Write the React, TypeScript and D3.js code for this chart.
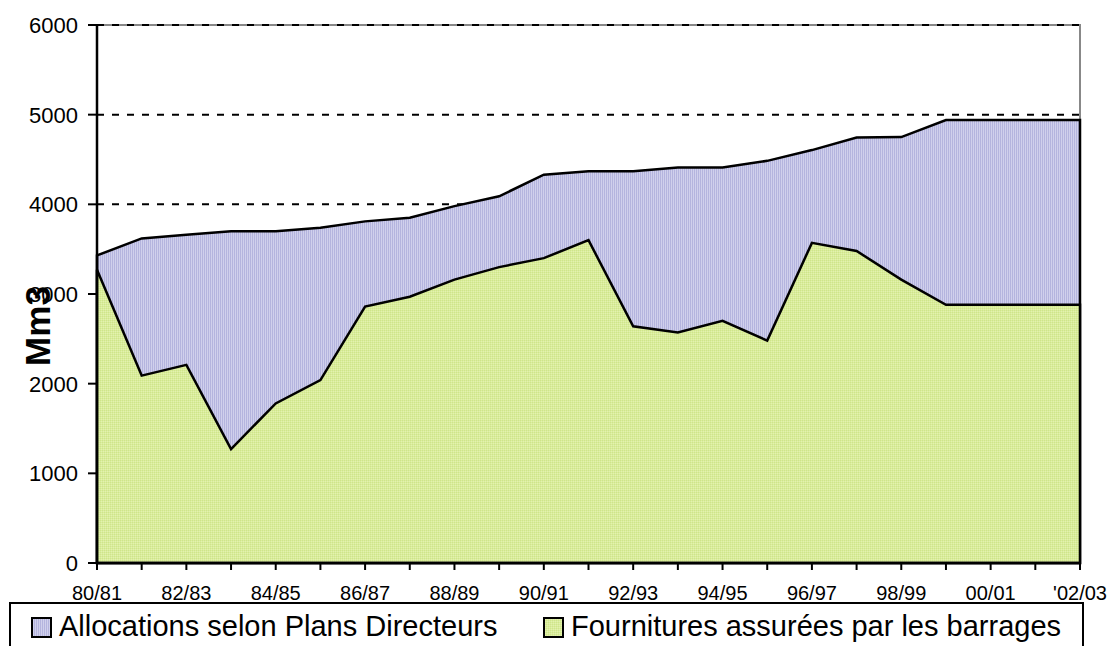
import * as d3 from "d3";

const seasons = [
  "80/81", "81/82", "82/83", "83/84", "84/85", "85/86", "86/87", "87/88",
  "88/89", "89/90", "90/91", "91/92", "92/93", "93/94", "94/95", "95/96",
  "96/97", "97/98", "98/99", "99/00", "00/01", "01/02", "'02/03",
];
const tickLabels = [
  "80/81", "82/83", "84/85", "86/87", "88/89", "90/91",
  "92/93", "94/95", "96/97", "98/99", "00/01", "'02/03",
];
// Mm3
const allocations = [
  3430, 3620, 3660, 3700, 3700, 3740, 3810, 3850, 3980, 4090, 4330, 4370,
  4370, 4410, 4410, 4485, 4605, 4745, 4750, 4940, 4940, 4940, 4940,
];
const fournitures = [
  3270, 2090, 2210, 1270, 1780, 2040, 2860, 2970, 3160, 3300, 3400, 3600,
  2640, 2570, 2700, 2480, 3570, 3480, 3160, 2880, 2880, 2880, 2880,
];
const yTicks = [0, 1000, 2000, 3000, 4000, 5000, 6000];
const legendItems = [
  { label: "Allocations selon Plans Directeurs", fill: "url(#purpleFill)" },
  { label: "Fournitures assurées par les barrages", fill: "url(#greenFill)" },
];

const W = 1109;
const H = 646;
const left = 97;
const right = 1080;
const top = 25;
const bottom = 563;
const font = "'Liberation Sans', Arial, sans-serif";

export default function App() {
  const x = d3.scalePoint<string>().domain(seasons).range([left, right]);
  const y = d3.scaleLinear().domain([0, 6000]).range([bottom, top]);

  const area = d3
    .area<number>()
    .x((_, i) => x(seasons[i])!)
    .y0(y(0))
    .y1((d) => y(d));

  const legendX = [32, 544];

  return (
    <svg
      width={W}
      height={H}
      style={{ position: "absolute", left: 0, top: 0, fontFamily: font }}
    >
      <defs>
        <pattern id="purpleFill" width={2} height={2} patternUnits="userSpaceOnUse">
          <rect width={1} height={2} fill="#b4b4de" />
          <rect x={1} width={1} height={2} fill="#d0d0ec" />
        </pattern>
        <pattern id="greenFill" width={2} height={2} patternUnits="userSpaceOnUse">
          <rect width={2} height={2} fill="#d9ec9c" />
          <rect width={1} height={1} fill="#cfe58a" />
          <rect x={1} y={1} width={1} height={1} fill="#e3f2ae" />
        </pattern>
      </defs>

      {/* plot frame */}
      <rect
        x={left}
        y={top}
        width={right - left}
        height={bottom - top}
        fill="#fff"
        stroke="#888"
        strokeWidth={2}
      />

      {/* gridlines */}
      {yTicks.slice(1).map((t) => (
        <line
          key={t}
          x1={left}
          x2={right}
          y1={y(t)}
          y2={y(t)}
          stroke="#000"
          strokeWidth={2}
          strokeDasharray="7,8"
        />
      ))}

      {/* areas */}
      <path
        d={area(allocations)!}
        fill="url(#purpleFill)"
        stroke="#000"
        strokeWidth={2.5}
        strokeLinejoin="miter"
      />
      <path
        d={area(fournitures)!}
        fill="url(#greenFill)"
        stroke="#000"
        strokeWidth={2.5}
        strokeLinejoin="miter"
      />

      {/* axes */}
      <line x1={left} x2={left} y1={top} y2={bottom} stroke="#000" strokeWidth={2.5} />
      <line x1={left} x2={right} y1={bottom} y2={bottom} stroke="#000" strokeWidth={2.5} />

      {yTicks.map((t) => (
        <g key={t}>
          <line x1={left - 9} x2={left} y1={y(t)} y2={y(t)} stroke="#000" strokeWidth={2} />
          <text
            x={78}
            y={y(t)}
            dy="0.36em"
            textAnchor="end"
            fontSize={22}
            fill="#000"
          >
            {t}
          </text>
        </g>
      ))}

      {seasons.map((s) => (
        <line
          key={s}
          x1={x(s)}
          x2={x(s)}
          y1={bottom}
          y2={bottom + 7}
          stroke="#000"
          strokeWidth={2}
        />
      ))}
      {tickLabels.map((s) => (
        <text
          key={s}
          x={x(s)}
          y={600}
          textAnchor="middle"
          fontSize={20}
          fill="#000"
        >
          {s}
        </text>
      ))}

      <text
        transform={`translate(50,326) rotate(-90)`}
        textAnchor="middle"
        fontSize={35}
        fontWeight="bold"
        fill="#000"
      >
        Mm3
      </text>

      {/* legend */}
      <rect
        x={10}
        y={603}
        width={1073}
        height={60}
        fill="#fff"
        stroke="#000"
        strokeWidth={2}
      />
      {legendItems.map((item, i) => (
        <g key={item.label}>
          <rect
            x={legendX[i]}
            y={618}
            width={19}
            height={19}
            fill={item.fill}
            stroke="#000"
            strokeWidth={2}
          />
          <text x={legendX[i] + 27} y={636} fontSize={29} fill="#000">
            {item.label}
          </text>
        </g>
      ))}
    </svg>
  );
}
